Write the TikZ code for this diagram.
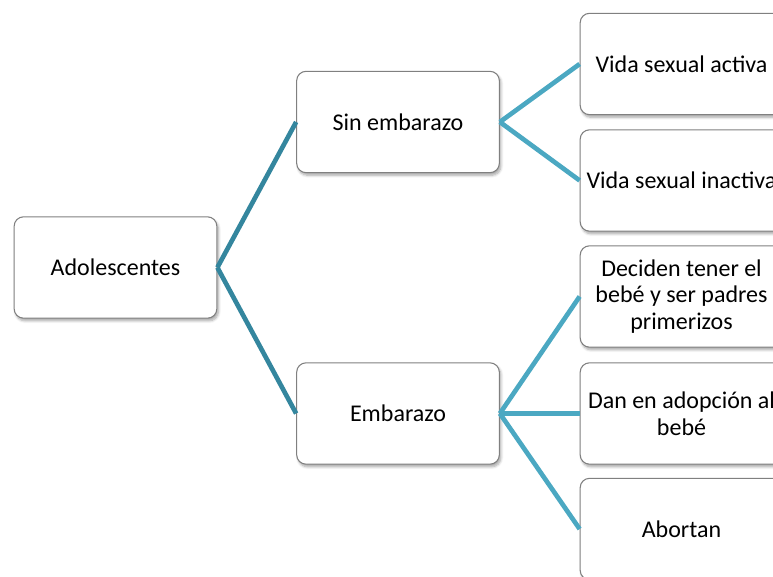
\documentclass[tikz,border=0pt]{standalone}
\usepackage{fontspec}
\setmainfont{Carlito}
\usetikzlibrary{shadows.blur}

\definecolor{linkdark}{RGB}{52,134,158}
\definecolor{linklight}{RGB}{75,168,194}

\tikzset{
  box/.style={draw=black!50, line width=0.8pt, fill=white, rounded corners=7pt,
    minimum width=152pt, minimum height=76pt, align=center,
    font=\fontsize{18}{20}\selectfont,
    blur shadow={shadow xshift=1.2pt, shadow yshift=-2pt, shadow blur steps=6, shadow opacity=35}},
  link/.style={line width=3.5pt},
}

\begin{document}
\begin{tikzpicture}[x=0.75pt,y=-0.75pt]
            \useasboundingbox (0,0) rectangle (773,577);
            \clip (0,0) rectangle (773,577);

            % Root
            \node[box] (ado) at (115.5,267.5) {Adolescentes};

            % Second level
            \node[box] (sin) at (398,122) {Sin embarazo};
            \node[box] (emb) at (398,413.5) {Embarazo};

            % Leaves
            \node[box] (r1) at (681.5,64) {Vida sexual activa};
            \node[box] (r2) at (681.5,180.5) {Vida sexual inactiva};
            \node[box] (r3) at (681.5,296.5) {Deciden tener el\\bebé y ser padres\\primerizos};
            \node[box] (r4) at (681.5,413.5) {Dan en adopción al\\bebé};
            \node[box] (r5) at (681.5,529) {Abortan};

            % Branches
            \draw[linkdark,link] (ado.east) -- (sin.west);
            \draw[linkdark,link] (ado.east) -- (emb.west);
            \draw[linklight,link] (sin.east) -- (r1.west);
            \draw[linklight,link] (sin.east) -- (r2.west);
            \draw[linklight,link] (emb.east) -- (r3.west);
            \draw[linklight,link] (emb.east) -- (r4.west);
            \draw[linklight,link] (emb.east) -- (r5.west);

\end{tikzpicture}
\end{document}
